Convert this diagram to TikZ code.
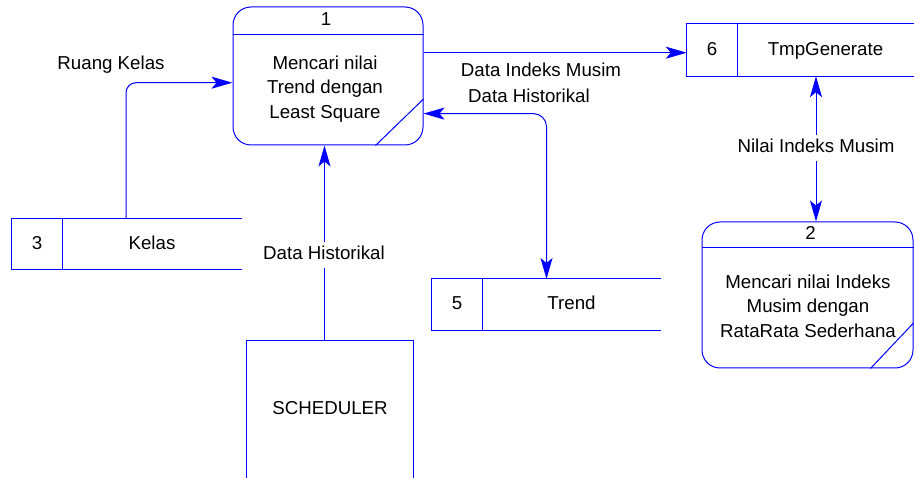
\documentclass[tikz,border=0pt]{standalone}
\usepackage{fontspec}
\setmainfont{Liberation Sans}
\usetikzlibrary{arrows.meta}
\definecolor{dfdblue}{RGB}{0,0,255}
\begin{document}
\begin{tikzpicture}[x=1pt,y=-1pt,
  every node/.style={font=\fontsize{18.7}{24.5}\selectfont, text=black},
  line/.style={draw=dfdblue, line width=1pt},
  procbox/.style={line, rounded corners=18pt, inner sep=0pt},
  cell/.style={inner sep=0pt, text height=14pt, text depth=3pt},
  flow/.style={line, -{Stealth[length=21pt,width=12pt,inset=5pt]}},
  biflow/.style={line, {Stealth[length=21pt,width=12pt,inset=5pt]}-{Stealth[length=21pt,width=12pt,inset=5pt]}},
  lbl/.style={anchor=base, inner sep=0pt},
  cutlbl/.style={fill=white, inner xsep=3pt, inner ysep=4pt, text height=14pt, text depth=4pt},
]
\useasboundingbox (0,0) rectangle (914,478);

% ---- process 1 ----
\node[procbox, minimum width=190pt, minimum height=138pt] (p1) at (328,76) {};
\draw[line] (p1.west |- 0,34.5) -- (p1.east |- 0,34.5);
\draw[line] (p1.south -| 375.5,0) -- (p1.east |- 0,99);
\node[lbl] (p1num) at (326,26) {1};
\node[align=center, inner sep=0pt] (p1txt) at (325,89) {Mencari nilai\\Trend dengan\\Least Square};

% ---- process 2 ----
\node[procbox, minimum width=211pt, minimum height=146pt] (p2) at (807.5,295) {};
\draw[line] (p2.west |- 0,248) -- (p2.east |- 0,248);
\draw[line] (p2.south -| 870.5,0) -- (p2.east |- 0,323);
\node[lbl] (p2num) at (810.5,239.3) {2};
\node[align=center, inner sep=0pt] (p2txt) at (808,306) {Mencari nilai Indeks\\Musim dengan\\RataRata Sederhana};

% ---- data store 6 ----
\node[cell, minimum width=50pt, minimum height=52pt] (s6n) at (712,50) {6};
\node[cell, minimum width=177pt, minimum height=52pt] (s6) at (825.5,50) {TmpGenerate};
\draw[line] (s6.north east) -- (s6n.north west) -- (s6n.south west) -- (s6.south east);
\draw[line] (s6n.north east) -- (s6n.south east);

% ---- data store 3 ----
\node[cell, minimum width=50pt, minimum height=50pt] (s3n) at (37,244) {3};
\node[cell, minimum width=180pt, minimum height=50pt] (s3) at (152,244) {Kelas};
\draw[line] (s3.north east) -- (s3n.north west) -- (s3n.south west) -- (s3.south east);
\draw[line] (s3n.north east) -- (s3n.south east);

% ---- data store 5 ----
\node[cell, minimum width=50pt, minimum height=51pt] (s5n) at (457,304.5) {5};
\node[cell, minimum width=179pt, minimum height=51pt] (s5) at (571.5,304.5) {Trend};
\draw[line] (s5.north east) -- (s5n.north west) -- (s5n.south west) -- (s5.south east);
\draw[line] (s5n.north east) -- (s5n.south east);

% ---- external entity ----
\node[cell, minimum width=166pt, minimum height=137pt] (sch) at (330,409.5) {SCHEDULER};
\draw[line] (sch.south west) -- (sch.north west) -- (sch.north east) -- (sch.south east);

% ---- data flows ----
\coordinate (kelasout) at (126,219);
\draw[flow, rounded corners=10pt] (kelasout) |- (p1.west |- 0,82.7);
\draw[flow] (p1.east |- 0,52.7) -- (s6n.west |- 0,52.7);
\coordinate (trendin) at (546.5,279);
\draw[biflow, rounded corners=13pt] (p1.east |- 0,113.6) -| (trendin);
\draw[flow] (sch.north -| 324.5,0) -- (p1.south -| 324.5,0);
\draw[biflow] (s6.south -| 816,0) -- (p2.north -| 816,0);

% ---- flow labels ----
\node[lbl] (lkelas) at (111,70) {Ruang Kelas};
\node[lbl] (lindeks) at (541,76.7) {Data Indeks Musim};
\node[lbl] (lhist1) at (529,102.7) {Data Historikal};
\node[cutlbl] (lhist2) at (324,255) {Data Historikal};
\node[cutlbl] (lnilai) at (816,148) {Nilai Indeks Musim};
\end{tikzpicture}
\end{document}
